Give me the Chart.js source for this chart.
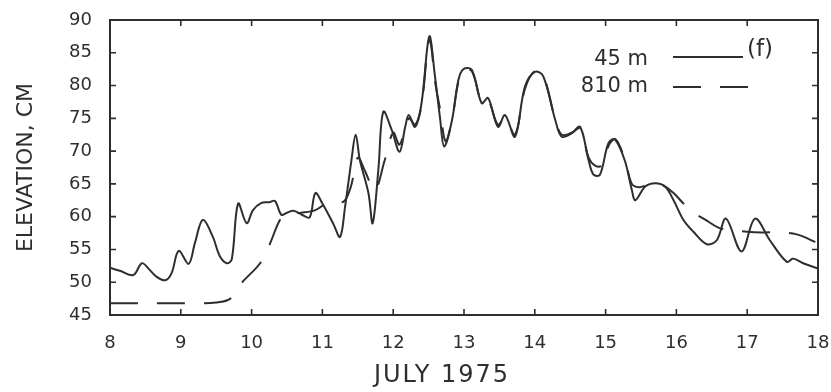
<!DOCTYPE html>
<html>
<head>
<meta charset="utf-8">
<script src="https://cdn.jsdelivr.net/npm/chart.js@4.4.1/dist/chart.umd.min.js"></script>
<style>
  html, body { margin: 0; padding: 0; background: #ffffff; }
  #wrap { width: 831px; height: 392px; }
</style>
</head>
<body>
<div id="wrap"><canvas id="c" width="831" height="392"></canvas></div>
<script>
// Sea-level elevation (cm) during 8–18 July 1975 at two stations.
const seriesNames = ['45 m', '810 m'];

// 45 m station: time (day of July) and elevation (cm)
const days45 = [8.00, 8.15, 8.33, 8.45, 8.55, 8.65, 8.78, 8.87, 8.97, 9.11, 9.20, 9.31, 9.45, 9.55, 9.65, 9.72, 9.81, 9.93, 10.02, 10.14, 10.25, 10.33, 10.42, 10.50, 10.59, 10.71, 10.82, 10.90, 11.00, 11.15, 11.25, 11.32, 11.41, 11.47, 11.53, 11.65, 11.71, 11.79, 11.86, 11.98, 12.09, 12.17, 12.22, 12.31, 12.40, 12.51, 12.59, 12.66, 12.72, 12.83, 12.92, 12.99, 13.11, 13.25, 13.34, 13.48, 13.58, 13.72, 13.86, 14.00, 14.12, 14.29, 14.38, 14.52, 14.64, 14.76, 14.83, 14.92, 15.04, 15.13, 15.27, 15.37, 15.42, 15.56, 15.70, 15.84, 15.96, 16.10, 16.24, 16.43, 16.57, 16.70, 16.92, 17.11, 17.32, 17.56, 17.65, 17.79, 18.00];
const elev45 = [52.2, 51.7, 51.1, 52.9, 52.0, 50.9, 50.3, 51.4, 54.8, 52.8, 56.0, 59.5, 57.0, 54.0, 52.9, 53.5, 62.0, 59.0, 61.0, 62.1, 62.2, 62.4, 60.3, 60.6, 60.9, 60.3, 59.9, 63.6, 62.0, 59.0, 56.9, 61.5, 68.6, 72.5, 68.6, 63.6, 59.0, 67.1, 76.0, 73.2, 69.9, 73.7, 75.5, 73.7, 77.3, 87.5, 81.4, 75.2, 70.7, 74.7, 80.8, 82.5, 82.4, 77.3, 78.1, 73.7, 75.5, 72.2, 79.8, 82.1, 81.4, 74.7, 72.2, 72.7, 73.7, 68.6, 66.4, 66.4, 71.2, 71.8, 68.6, 64.1, 62.5, 64.6, 65.1, 64.6, 62.5, 59.5, 57.7, 55.8, 56.4, 59.7, 54.7, 59.7, 56.4, 53.1, 53.6, 52.9, 52.1];

// 810 m station
const days810 = [8.00, 8.40, 8.80, 9.20, 9.50, 9.70, 9.86, 10.12, 10.26, 10.40, 10.50, 10.70, 10.90, 11.10, 11.30, 11.40, 11.50, 11.60, 11.74, 11.88, 12.00, 12.09, 12.22, 12.31, 12.40, 12.51, 12.60, 12.66, 12.74, 12.83, 12.92, 13.00, 13.11, 13.25, 13.34, 13.48, 13.58, 13.72, 13.86, 14.00, 14.12, 14.29, 14.38, 14.52, 14.64, 14.76, 14.85, 14.95, 15.05, 15.14, 15.27, 15.37, 15.47, 15.58, 15.70, 15.84, 15.96, 16.10, 16.21, 16.40, 16.60, 16.80, 17.00, 17.20, 17.50, 17.70, 17.85, 18.00];
const elev810 = [46.8, 46.8, 46.8, 46.8, 46.9, 47.5, 49.9, 52.9, 55.9, 59.5, 60.4, 60.6, 61.0, 62.3, 62.3, 64.5, 69.0, 67.0, 64.0, 68.6, 72.8, 71.0, 75.0, 74.0, 77.0, 87.0, 80.0, 76.5, 71.5, 74.7, 80.5, 82.3, 82.2, 77.5, 77.8, 74.0, 75.2, 72.5, 79.5, 82.2, 81.5, 74.8, 72.5, 72.8, 73.5, 69.0, 67.8, 67.8, 71.0, 71.8, 68.8, 65.0, 64.5, 64.8, 65.1, 64.6, 63.6, 62.0, 60.8, 59.6, 58.3, 57.9, 57.7, 57.6, 57.6, 57.3, 56.7, 55.9];

// Axis ranges and labels
const xRange = [8, 18];
const yRange = [45, 90];
const xTitle = 'JULY 1975';
const yTitle = 'ELEVATION, CM';
const panelTag = '(f)';

const INK = '#2e2e2e';
const FONT = 'DejaVu Sans';

const toPoints = (xs, ys) => xs.map((x, i) => ({ x, y: ys[i] }));

// Box frame with short inward tick marks on all four sides
const framePlugin = {
  id: 'frame',
  afterDraw(chart) {
    const { ctx, chartArea: a, scales: { x, y } } = chart;
    ctx.save();
    ctx.strokeStyle = INK;
    ctx.lineWidth = 2;
    ctx.strokeRect(a.left, a.top, a.right - a.left, a.bottom - a.top);
    ctx.lineWidth = 1.6;
    const len = 6;
    ctx.beginPath();
    x.ticks.forEach(t => {
      const px = x.getPixelForValue(t.value);
      ctx.moveTo(px, a.bottom); ctx.lineTo(px, a.bottom - len);
      ctx.moveTo(px, a.top); ctx.lineTo(px, a.top + len);
    });
    y.ticks.forEach(t => {
      const py = y.getPixelForValue(t.value);
      ctx.moveTo(a.left, py); ctx.lineTo(a.left + len, py);
      ctx.moveTo(a.right, py); ctx.lineTo(a.right - len, py);
    });
    ctx.stroke();
    ctx.restore();
  }
};

// Time-axis caption, set a little left of centre under the x axis
const xCaptionPlugin = {
  id: 'xCaption',
  afterDraw(chart) {
    const { ctx, chartArea: a } = chart;
    ctx.save();
    ctx.fillStyle = INK;
    ctx.font = '24px "' + FONT + '"';
    ctx.letterSpacing = '2px';
    ctx.textAlign = 'center';
    ctx.textBaseline = 'middle';
    ctx.fillText(xTitle, a.left + 332, chart.height - 16);
    ctx.restore();
  }
};

// Key in the upper right: label, line sample, and panel letter
const keyPlugin = {
  id: 'key',
  afterDraw(chart) {
    const { ctx, chartArea: a } = chart;
    const textRight = a.right - 170;
    const lineStart = a.right - 145;
    const rows = [a.top + 40, a.top + 67];
    ctx.save();
    ctx.fillStyle = INK;
    ctx.strokeStyle = INK;
    ctx.font = '21px "' + FONT + '"';
    ctx.textAlign = 'right';
    ctx.textBaseline = 'middle';
    chart.data.datasets.forEach((ds, i) => {
      const yy = rows[i];
      ctx.fillText(ds.label, textRight, yy);
      ctx.lineWidth = 2.2;
      ctx.setLineDash(ds.borderDash || []);
      ctx.beginPath();
      ctx.moveTo(lineStart, yy - (i === 0 ? 3 : 0));
      ctx.lineTo(lineStart + (i === 0 ? 70 : 79), yy - (i === 0 ? 3 : 0));
      ctx.stroke();
    });
    ctx.setLineDash([]);
    ctx.textAlign = 'left';
    ctx.font = '23px "' + FONT + '"';
    ctx.fillText(panelTag, lineStart + 74, a.top + 30);
    ctx.restore();
  }
};

new Chart(document.getElementById('c'), {
  type: 'line',
  data: {
    datasets: [
      {
        label: seriesNames[0],
        data: toPoints(days45, elev45),
        borderColor: INK,
        borderWidth: 2,
        pointRadius: 0,
        tension: 0.35,
        fill: false
      },
      {
        label: seriesNames[1],
        data: toPoints(days810, elev810),
        borderColor: INK,
        borderWidth: 2,
        borderDash: [28, 19],
        pointRadius: 0,
        tension: 0.35,
        fill: false
      }
    ]
  },
  plugins: [framePlugin, xCaptionPlugin, keyPlugin],
  options: {
    responsive: false,
    animation: false,
    layout: { padding: { left: 0, right: 13, top: 20, bottom: 0 } },
    plugins: { legend: { display: false }, tooltip: { enabled: false } },
    scales: {
      x: {
        type: 'linear',
        min: xRange[0],
        max: xRange[1],
        ticks: { stepSize: 1, padding: 18, color: INK, font: { family: FONT, size: 18 } },
        grid: { display: false, drawTicks: false },
        border: { display: false },
        title: { display: false },
        afterFit(s) { s.height = 77; s.paddingLeft = 0; s.paddingRight = 0; }
      },
      y: {
        min: yRange[0],
        max: yRange[1],
        ticks: { stepSize: 5, padding: 18, color: INK, font: { family: FONT, size: 18 } },
        grid: { display: false, drawTicks: false },
        border: { display: false },
        title: { display: true, text: yTitle, color: INK, font: { family: FONT, size: 22 }, padding: { top: 13, bottom: 0 } },
        afterFit(s) { s.width = 110; s.paddingTop = 0; s.paddingBottom = 0; }
      }
    }
  }
});
</script>
</body>
</html>
